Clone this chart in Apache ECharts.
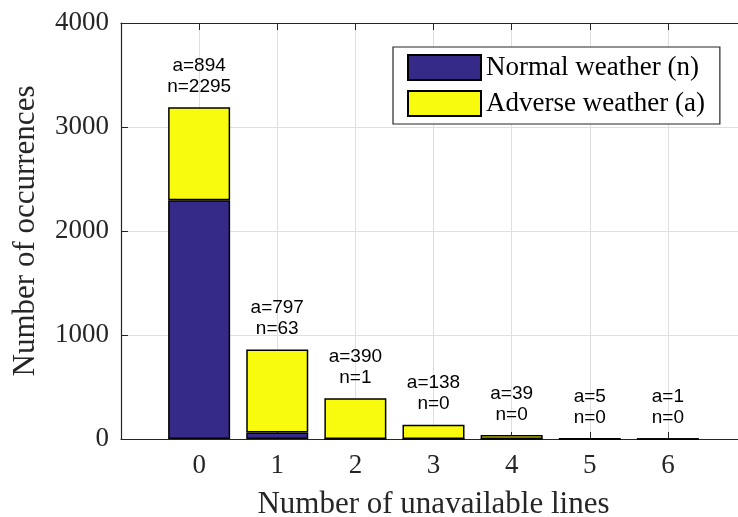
<!DOCTYPE html>
<html>
<head>
<meta charset="utf-8">
<script src="https://cdn.jsdelivr.net/npm/echarts@6/dist/echarts.min.js"></script>
<style>html,body{margin:0;padding:0;background:#fff;}#c{width:738px;height:517px;}</style>
</head>
<body>
<div id="c"></div>
<script>
var categories = ['0', '1', '2', '3', '4', '5', '6'];
var normalWeather = [2295, 63, 1, 0, 0, 0, 0];
var adverseWeather = [894, 797, 390, 138, 39, 5, 1];
var yTicks = [0, 1000, 2000, 3000, 4000];
// axis spans one empty slot before the first and after the last category
var axisSlots = ['-1'].concat(categories, ['7']);

var serif = '"Liberation Serif", "DejaVu Serif", serif';
var sans = '"Liberation Sans", Arial, sans-serif';
var axisColor = '#262626';

var chart = echarts.init(document.getElementById('c'), null, {renderer: 'canvas'});
var nData = axisSlots.map(function (c) { var i = categories.indexOf(c); return i >= 0 ? normalWeather[i] : '-'; });
var aData = axisSlots.map(function (c) { var i = categories.indexOf(c); return i >= 0 ? adverseWeather[i] : '-'; });

function isCat(v) { return categories.indexOf(v) >= 0; }

chart.setOption({
  animation: false,
  backgroundColor: '#fff',
  grid: {left: 121, right: -8, top: 23, bottom: 78, containLabel: false, outerBoundsMode: 'none'},
  legend: {
    left: 393, top: 47, orient: 'vertical',
    padding: [7, 15, 7, 14],
    itemWidth: 73, itemHeight: 25, itemGap: 9,
    backgroundColor: '#fff', borderColor: axisColor, borderWidth: 1.2,
    icon: 'rect',
    textStyle: {fontFamily: serif, fontSize: 27, color: '#000', lineHeight: 25},
    data: ['Normal weather (n)', 'Adverse weather (a)']
  },
  xAxis: [{
    type: 'category', data: axisSlots, boundaryGap: false,
    name: 'Number of unavailable lines', nameLocation: 'middle', nameGap: 50,
    nameTextStyle: {fontFamily: serif, fontSize: 31, color: axisColor},
    axisLine: {show: true, onZero: false, lineStyle: {color: axisColor, width: 1.2}},
    axisTick: {show: true, inside: true, length: 7, interval: 0, lineStyle: {color: axisColor}},
    axisLabel: {fontFamily: serif, fontSize: 27, color: axisColor, margin: 13, interval: 0,
      formatter: function (v) { return isCat(v) ? v : ''; }},
    splitLine: {show: true, interval: 0, lineStyle: {color: '#dfdfdf', width: 1}}
  }, {
    type: 'category', data: axisSlots, boundaryGap: false, position: 'top',
    axisLine: {show: true, onZero: false, lineStyle: {color: axisColor, width: 1.2}},
    axisTick: {show: true, inside: true, length: 7, interval: 0, lineStyle: {color: axisColor}},
    axisLabel: {show: false}, splitLine: {show: false}
  }],
  yAxis: {
    type: 'value', min: yTicks[0], max: yTicks[yTicks.length - 1], interval: 1000,
    name: 'Number of occurrences', nameLocation: 'middle', nameGap: 80,
    nameTextStyle: {fontFamily: serif, fontSize: 31, color: axisColor},
    axisLine: {show: true, onZero: false, lineStyle: {color: axisColor, width: 1.2}},
    axisTick: {show: true, inside: true, length: 7, lineStyle: {color: axisColor}},
    axisLabel: {fontFamily: serif, fontSize: 27, color: axisColor, margin: 12,
      formatter: function (v) { return String(v); }},
    splitLine: {show: true, lineStyle: {color: '#dfdfdf', width: 1}}
  },
  series: [{
    name: 'Normal weather (n)', type: 'bar', stack: 'w', xAxisIndex: 0,
    barWidth: 62, data: nData,
    itemStyle: {color: '#352a87', borderColor: '#000', borderWidth: 1.5}
  }, {
    name: 'Adverse weather (a)', type: 'bar', stack: 'w', xAxisIndex: 0,
    barWidth: 62, data: aData,
    itemStyle: {color: '#f9fb0e', borderColor: '#000', borderWidth: 1.5},
    label: {
      show: true, position: 'top', distance: 10,
      fontFamily: sans, fontSize: 19, color: '#000', lineHeight: 21, align: 'center',
      formatter: function (p) {
        var i = categories.indexOf(p.name);
        return 'a=' + adverseWeather[i] + '\nn=' + normalWeather[i];
      }
    }
  }]
});
</script>
</body>
</html>
